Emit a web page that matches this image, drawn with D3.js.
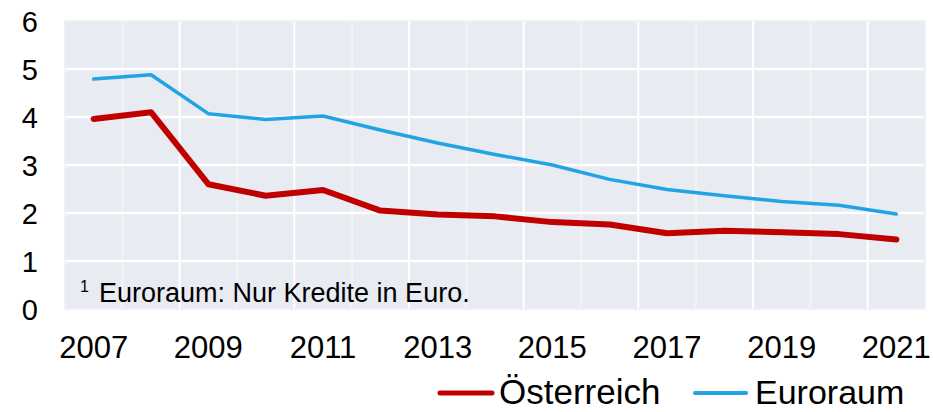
<!DOCTYPE html>
<html>
<head>
<meta charset="utf-8">
<script src="https://cdn.jsdelivr.net/npm/d3@7"></script>
<style>
  body { margin: 0; background: #fff; }
  svg { display: block; font-family: "Liberation Sans", Arial, sans-serif; }
</style>
</head>
<body>
<svg id="chart" width="933" height="412"></svg>
<script>
const years = [2007, 2008, 2009, 2010, 2011, 2012, 2013, 2014, 2015, 2016, 2017, 2018, 2019, 2020, 2021];
const oesterreich = [3.96, 4.10, 2.60, 2.36, 2.48, 2.05, 1.97, 1.93, 1.81, 1.76, 1.58, 1.63, 1.60, 1.56, 1.45];
const euroraum = [4.79, 4.88, 4.07, 3.95, 4.02, 3.73, 3.46, 3.22, 3.00, 2.70, 2.49, 2.36, 2.24, 2.16, 1.98];
const yTicks = [0, 1, 2, 3, 4, 5, 6];
const xTickLabels = ["2007", "2009", "2011", "2013", "2015", "2017", "2019", "2021"];
const seriesNames = ["Österreich", "Euroraum"];
const footnote = "Euroraum: Nur Kredite in Euro.";

(function () {
const svg = d3.select("#chart");
const pLeft = 65, pRight = 925, pTop = 21, pBottom = 309;

const x = d3.scaleBand().domain(years.map(String)).range([pLeft, pRight]);
const y = d3.scaleLinear().domain([0, 6]).range([pBottom, pTop]);

// plot background
svg.append("rect").attr("x", pLeft).attr("y", pTop)
  .attr("width", pRight - pLeft).attr("height", pBottom - pTop)
  .attr("fill", "#e8ebf2").attr("stroke", "#f0f1f4").attr("stroke-width", 2);

// vertical gridlines at band boundaries
const g = svg.append("g");
years.slice(1).forEach((yr, i) => {
  const xv = x(String(yr));
  g.append("line").attr("x1", xv).attr("x2", xv).attr("y1", pTop).attr("y2", pBottom)
    .attr("stroke", i % 2 === 0 ? "#f2f2f2" : "#ffffff").attr("stroke-width", i % 2 === 0 ? 2.5 : 2);
});
// horizontal gridlines
yTicks.filter(t => t > 0 && t < 6).forEach(t => {
  g.append("line").attr("x1", pLeft).attr("x2", pRight - 2).attr("y1", y(t)).attr("y2", y(t))
    .attr("stroke", "#ffffff").attr("stroke-width", 2.5);
});

// y axis labels
const yAxis = d3.axisLeft(y).tickValues(yTicks).tickSize(0).tickPadding(0).tickFormat(d3.format("d"));
svg.append("g").attr("transform", "translate(38,0)").call(yAxis)
  .call(s => s.select(".domain").remove())
  .selectAll("text").attr("font-size", 29).attr("fill", "#000")
  .attr("font-family", "Liberation Sans, Arial, sans-serif")
  .attr("dy", "0.35em");

// x axis labels
const xAxis = d3.axisBottom(x).tickValues(xTickLabels).tickSize(0).tickPadding(0);
svg.append("g").attr("transform", "translate(0,358)").call(xAxis)
  .call(s => s.select(".domain").remove())
  .selectAll("text").attr("font-size", 31).attr("fill", "#000")
  .attr("font-family", "Liberation Sans, Arial, sans-serif")
  .attr("dy", 0);

// footnote
const fn = svg.append("text").attr("x", 80).attr("y", 302).attr("font-size", 27).attr("fill", "#000");
fn.append("tspan").attr("font-size", 16).attr("dy", -10).text("1");
fn.append("tspan").attr("dy", 10).attr("x", 99).text(footnote);

// lines
const line = d3.line().x((d, i) => x(String(years[i])) + x.bandwidth() / 2).y(d => y(d));
svg.append("path").datum(euroraum).attr("d", line).attr("fill", "none")
  .attr("stroke", "#22a3e4").attr("stroke-width", 3.5).attr("stroke-linejoin", "round").attr("stroke-linecap", "round");
svg.append("path").datum(oesterreich).attr("d", line).attr("fill", "none")
  .attr("stroke", "#c00000").attr("stroke-width", 6).attr("stroke-linejoin", "round").attr("stroke-linecap", "round");

// legend
const legend = [
  { name: seriesNames[0], color: "#c00000", w: 5, x1: 440, x2: 492, tx: 499, size: 35 },
  { name: seriesNames[1], color: "#22a3e4", w: 4, x1: 695, x2: 746, tx: 755, size: 34 }
];
legend.forEach(l => {
  svg.append("line").attr("x1", l.x1).attr("x2", l.x2).attr("y1", 393).attr("y2", 393)
    .attr("stroke", l.color).attr("stroke-width", l.w).attr("stroke-linecap", "round");
  svg.append("text").attr("x", l.tx).attr("y", 404).attr("font-size", l.size).attr("fill", "#000").text(l.name);
});
})();
</script>
</body>
</html>
